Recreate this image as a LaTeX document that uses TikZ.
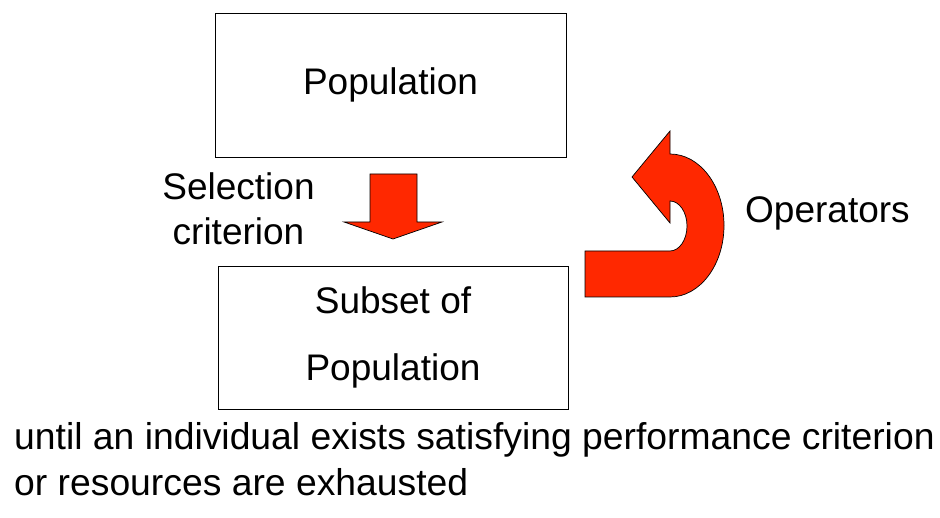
\documentclass[tikz,border=0pt]{standalone}
\usepackage{fontspec}
\setmainfont{Liberation Sans}
\definecolor{arrowred}{RGB}{255,40,0}
\begin{document}
\begin{tikzpicture}[x=1pt,y=1pt,
  bigtext/.style={font=\fontsize{37}{43}\selectfont, inner sep=0pt},
  bottext/.style={font=\fontsize{37.3}{43}\selectfont, inner sep=0pt},
  boxnode/.style={draw, line width=0.8pt, align=center, inner sep=0pt, font=\fontsize{37}{67}\selectfont},
  blockarrow/.style={fill=arrowred, draw=black, line width=0.7pt, line join=miter}]
\useasboundingbox (0,0) rectangle (940,518);
\node[boxnode, minimum width=351pt, minimum height=144pt] (pop) at (390.5,433) {Population};
\node[boxnode, minimum width=350pt, minimum height=143pt] (sub) at (393,180.5) {Subset of\\Population};
\node[bigtext, anchor=base] (sel1) at (238.5,318) {Selection};
\node[bigtext, anchor=base] (sel2) at (238.5,273) {criterion};
\node[bigtext, anchor=base west] (ops) at (745,295) {Operators};
\node[bottext, anchor=base west] (bot1) at (14,68) {until an individual exists satisfying performance criterion};
\node[bottext, anchor=base west] (bot2) at (14,22) {or resources are exhausted};
\draw[blockarrow] (370,344) -- (417,344) -- (417,296) -- (442,296) -- (393,279) -- (344,296) -- (370,296) -- cycle;
\draw[blockarrow] (585,221) -- (670,221)
  arc[start angle=-90, end angle=90, x radius=54pt, y radius=71.5pt]
  -- (670,387) -- (632,341) -- (670,295) -- (670,317)
  arc[start angle=90, end angle=-90, x radius=17pt, y radius=25pt]
  -- (585,267) -- cycle;
\end{tikzpicture}
\end{document}
